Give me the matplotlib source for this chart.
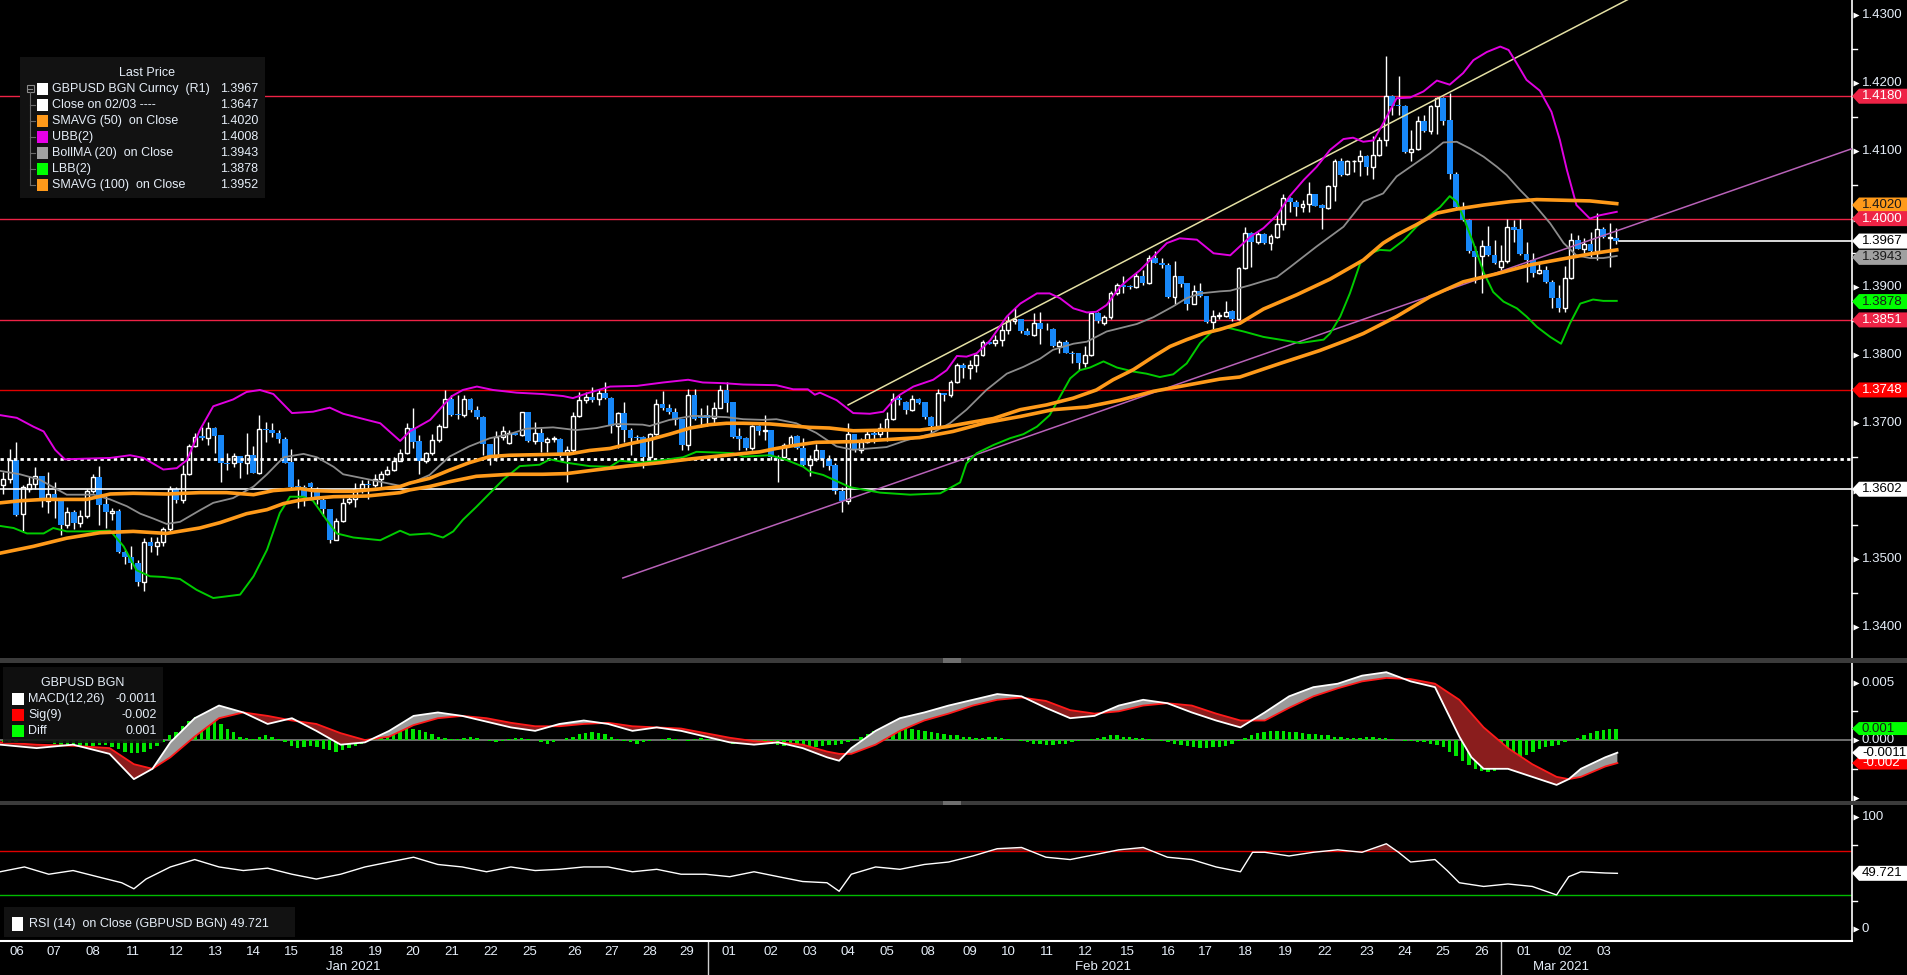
import numpy as np
import matplotlib.pyplot as plt
from matplotlib.patches import Rectangle, Polygon

plt.rcParams['font.family'] = ['Liberation Sans', 'DejaVu Sans']

# ---- 4h candles GBPUSD, 06 Jan -> 03 Mar 2021 ----
opens = [1.3608, 1.3617, 1.3645, 1.3565, 1.3603, 1.3609, 1.3622, 1.3585, 1.3595, 1.3589,
         1.3549, 1.3568, 1.3553, 1.3562, 1.3600, 1.3620, 1.3580, 1.3567, 1.3570, 1.3510,
         1.3502, 1.3493, 1.3465, 1.3525, 1.3518, 1.3524, 1.3544, 1.3603, 1.3586, 1.3625,
         1.3665, 1.3680, 1.3678, 1.3692, 1.3682, 1.3640, 1.3640, 1.3651, 1.3640, 1.3653,
         1.3626, 1.3690, 1.3689, 1.3684, 1.3676, 1.3642, 1.3607, 1.3606, 1.3611, 1.3603,
         1.3586, 1.3573, 1.3528, 1.3556, 1.3583, 1.3587, 1.3601, 1.3610, 1.3608, 1.3617,
         1.3625, 1.3630, 1.3644, 1.3655, 1.3692, 1.3673, 1.3643, 1.3655, 1.3674, 1.3694,
         1.3734, 1.3713, 1.3711, 1.3734, 1.3719, 1.3708, 1.3669, 1.3649, 1.3679, 1.3670,
         1.3684, 1.3682, 1.3716, 1.3673, 1.3684, 1.3671, 1.3676, 1.3676, 1.3655, 1.3659,
         1.3710, 1.3733, 1.3737, 1.3734, 1.3743, 1.3736, 1.3695, 1.3714, 1.3689, 1.3679,
         1.3679, 1.3650, 1.3683, 1.3727, 1.3722, 1.3716, 1.3705, 1.3667, 1.3741, 1.3709,
         1.3711, 1.3707, 1.3722, 1.3748, 1.3730, 1.3680, 1.3677, 1.3662, 1.3695, 1.3687,
         1.3689, 1.3650, 1.3649, 1.3667, 1.3680, 1.3662, 1.3638, 1.3647, 1.3660, 1.3647,
         1.3638, 1.3600, 1.3585, 1.3683, 1.3660, 1.3672, 1.3684, 1.3683, 1.3690, 1.3705,
         1.3736, 1.3730, 1.3718, 1.3734, 1.3730, 1.3708, 1.3695, 1.3743, 1.3741, 1.3759,
         1.3785, 1.3781, 1.3784, 1.3799, 1.3818, 1.3817, 1.3821, 1.3836, 1.3850, 1.3852,
         1.3835, 1.3829, 1.3847, 1.3838, 1.3838, 1.3812, 1.3818, 1.3803, 1.3802, 1.3788,
         1.3800, 1.3861, 1.3847, 1.3855, 1.3891, 1.3902, 1.3901, 1.3899, 1.3915, 1.3905,
         1.3942, 1.3935, 1.3932, 1.3885, 1.3916, 1.3905, 1.3875, 1.3893, 1.3886, 1.3848,
         1.3857, 1.3857, 1.3864, 1.3853, 1.3927, 1.3979, 1.3965, 1.3977, 1.3964, 1.3973,
         1.3992, 1.4031, 1.4025, 1.4017, 1.4021, 1.4036, 1.4020, 1.4015, 1.4048, 1.4085,
         1.4065, 1.4084, 1.4085, 1.4092, 1.4076, 1.4094, 1.4116, 1.4180, 1.4167, 1.4166,
         1.4098, 1.4103, 1.4143, 1.4129, 1.4166, 1.4177, 1.4145, 1.4066, 1.4017, 1.3998,
         1.3953, 1.3945, 1.3960, 1.3946, 1.3929, 1.3937, 1.3987, 1.3984, 1.3948, 1.3939,
         1.3920, 1.3925, 1.3907, 1.3883, 1.3868, 1.3912, 1.3969, 1.3956, 1.3963, 1.3953,
         1.3984, 1.3972, 1.3972]
highs = [1.3628, 1.3661, 1.3672, 1.3608, 1.3621, 1.3634, 1.3622, 1.3628, 1.3613, 1.3589,
         1.3576, 1.3571, 1.3571, 1.3603, 1.3625, 1.3636, 1.3592, 1.3574, 1.3573, 1.3513,
         1.3518, 1.3498, 1.3530, 1.3532, 1.3532, 1.3547, 1.3607, 1.3606, 1.3638, 1.3669,
         1.3685, 1.3693, 1.3701, 1.3693, 1.3682, 1.3655, 1.3655, 1.3651, 1.3684, 1.3665,
         1.3711, 1.3701, 1.3699, 1.3689, 1.3679, 1.3661, 1.3617, 1.3608, 1.3613, 1.3606,
         1.3589, 1.3573, 1.3559, 1.3589, 1.3592, 1.3611, 1.3616, 1.3616, 1.3625, 1.3629,
         1.3636, 1.3649, 1.3661, 1.3700, 1.3721, 1.3682, 1.3657, 1.3683, 1.3698, 1.3748,
         1.3741, 1.3741, 1.3741, 1.3736, 1.3724, 1.3709, 1.3669, 1.3687, 1.3695, 1.3689,
         1.3684, 1.3716, 1.3716, 1.3701, 1.3692, 1.3679, 1.3680, 1.3677, 1.3666, 1.3716,
         1.3745, 1.3745, 1.3753, 1.3749, 1.3760, 1.3737, 1.3716, 1.3731, 1.3692, 1.3682,
         1.3680, 1.3685, 1.3734, 1.3747, 1.3727, 1.3721, 1.3706, 1.3750, 1.3750, 1.3721,
         1.3726, 1.3731, 1.3755, 1.3760, 1.3731, 1.3692, 1.3679, 1.3697, 1.3697, 1.3711,
         1.3689, 1.3652, 1.3670, 1.3682, 1.3682, 1.3678, 1.3652, 1.3669, 1.3660, 1.3653,
         1.3640, 1.3605, 1.3700, 1.3683, 1.3677, 1.3690, 1.3689, 1.3699, 1.3716, 1.3743,
         1.3741, 1.3732, 1.3741, 1.3736, 1.3731, 1.3709, 1.3750, 1.3744, 1.3763, 1.3787,
         1.3787, 1.3792, 1.3801, 1.3821, 1.3819, 1.3829, 1.3843, 1.3857, 1.3868, 1.3853,
         1.3839, 1.3861, 1.3862, 1.3846, 1.3839, 1.3821, 1.3821, 1.3806, 1.3803, 1.3813,
         1.3863, 1.3862, 1.3858, 1.3893, 1.3905, 1.3915, 1.3903, 1.3920, 1.3925, 1.3946,
         1.3953, 1.3942, 1.3934, 1.3937, 1.3916, 1.3905, 1.3902, 1.3905, 1.3886, 1.3866,
         1.3863, 1.3879, 1.3865, 1.3929, 1.3988, 1.3981, 1.3981, 1.3979, 1.3978, 1.4008,
         1.4036, 1.4032, 1.4027, 1.4027, 1.4054, 1.4036, 1.4021, 1.4049, 1.4087, 1.4089,
         1.4086, 1.4086, 1.4101, 1.4094, 1.4121, 1.4120, 1.4239, 1.4182, 1.4210, 1.4167,
         1.4131, 1.4151, 1.4152, 1.4167, 1.4179, 1.4179, 1.4184, 1.4069, 1.4025, 1.3999,
         1.3959, 1.3969, 1.3989, 1.3968, 1.3961, 1.4000, 1.3998, 1.3999, 1.3966, 1.3949,
         1.3934, 1.3930, 1.3910, 1.3902, 1.3930, 1.3979, 1.3976, 1.3971, 1.3981, 1.4008,
         1.3988, 1.3994, 1.3986]
lows = [1.3595, 1.3611, 1.3562, 1.3541, 1.3598, 1.3602, 1.3576, 1.3567, 1.3559, 1.3535,
        1.3545, 1.3543, 1.3547, 1.3559, 1.3597, 1.3550, 1.3545, 1.3557, 1.3508, 1.3492,
        1.3484, 1.3460, 1.3453, 1.3510, 1.3505, 1.3518, 1.3538, 1.3582, 1.3582, 1.3623,
        1.3664, 1.3674, 1.3667, 1.3655, 1.3613, 1.3630, 1.3635, 1.3618, 1.3625, 1.3626,
        1.3625, 1.3672, 1.3679, 1.3670, 1.3640, 1.3603, 1.3574, 1.3577, 1.3586, 1.3581,
        1.3562, 1.3523, 1.3527, 1.3554, 1.3580, 1.3576, 1.3596, 1.3587, 1.3605, 1.3606,
        1.3623, 1.3629, 1.3643, 1.3654, 1.3662, 1.3625, 1.3641, 1.3653, 1.3672, 1.3693,
        1.3710, 1.3706, 1.3708, 1.3716, 1.3706, 1.3652, 1.3638, 1.3644, 1.3674, 1.3669,
        1.3682, 1.3680, 1.3672, 1.3669, 1.3657, 1.3657, 1.3672, 1.3650, 1.3612, 1.3655,
        1.3708, 1.3729, 1.3731, 1.3726, 1.3734, 1.3684, 1.3662, 1.3672, 1.3652, 1.3670,
        1.3633, 1.3640, 1.3682, 1.3719, 1.3713, 1.3697, 1.3659, 1.3660, 1.3704, 1.3694,
        1.3695, 1.3697, 1.3721, 1.3716, 1.3678, 1.3660, 1.3660, 1.3659, 1.3682, 1.3674,
        1.3645, 1.3613, 1.3648, 1.3665, 1.3661, 1.3636, 1.3622, 1.3643, 1.3635, 1.3630,
        1.3595, 1.3568, 1.3580, 1.3657, 1.3655, 1.3670, 1.3670, 1.3679, 1.3673, 1.3704,
        1.3726, 1.3713, 1.3717, 1.3728, 1.3706, 1.3684, 1.3694, 1.3732, 1.3738, 1.3758,
        1.3765, 1.3764, 1.3775, 1.3798, 1.3815, 1.3812, 1.3812, 1.3831, 1.3845, 1.3832,
        1.3829, 1.3828, 1.3816, 1.3836, 1.3811, 1.3803, 1.3802, 1.3788, 1.3778, 1.3782,
        1.3798, 1.3847, 1.3843, 1.3853, 1.3888, 1.3890, 1.3897, 1.3898, 1.3902, 1.3904,
        1.3934, 1.3927, 1.3883, 1.3874, 1.3900, 1.3865, 1.3874, 1.3885, 1.3847, 1.3836,
        1.3853, 1.3856, 1.3850, 1.3851, 1.3926, 1.3929, 1.3963, 1.3963, 1.3954, 1.3971,
        1.3983, 1.4010, 1.4004, 1.4010, 1.4009, 1.4018, 1.3984, 1.4014, 1.4026, 1.4062,
        1.4064, 1.4069, 1.4063, 1.4064, 1.4058, 1.4092, 1.4107, 1.4152, 1.4152, 1.4096,
        1.4085, 1.4101, 1.4128, 1.4124, 1.4125, 1.4138, 1.4058, 1.4014, 1.3996, 1.3950,
        1.3905, 1.3891, 1.3945, 1.3933, 1.3924, 1.3935, 1.3966, 1.3947, 1.3907, 1.3914,
        1.3919, 1.3906, 1.3869, 1.3862, 1.3862, 1.3911, 1.3955, 1.3950, 1.3944, 1.3939,
        1.3971, 1.3929, 1.3963]
closes = [1.3617, 1.3645, 1.3564, 1.3605, 1.3609, 1.3621, 1.3587, 1.3595, 1.3589, 1.3549,
          1.3568, 1.3553, 1.3562, 1.3600, 1.3620, 1.3579, 1.3568, 1.3570, 1.3509, 1.3502,
          1.3493, 1.3465, 1.3525, 1.3518, 1.3524, 1.3543, 1.3603, 1.3586, 1.3625, 1.3665,
          1.3679, 1.3677, 1.3692, 1.3681, 1.3640, 1.3639, 1.3651, 1.3640, 1.3653, 1.3626,
          1.3690, 1.3689, 1.3684, 1.3676, 1.3641, 1.3605, 1.3605, 1.3591, 1.3605, 1.3586,
          1.3573, 1.3528, 1.3556, 1.3582, 1.3587, 1.3602, 1.3609, 1.3608, 1.3617, 1.3625,
          1.3630, 1.3644, 1.3655, 1.3692, 1.3672, 1.3643, 1.3655, 1.3674, 1.3695, 1.3734,
          1.3711, 1.3711, 1.3734, 1.3718, 1.3708, 1.3669, 1.3649, 1.3679, 1.3687, 1.3684,
          1.3682, 1.3716, 1.3673, 1.3684, 1.3671, 1.3676, 1.3677, 1.3652, 1.3659, 1.3710,
          1.3733, 1.3737, 1.3733, 1.3743, 1.3736, 1.3695, 1.3714, 1.3689, 1.3678, 1.3678,
          1.3650, 1.3683, 1.3727, 1.3721, 1.3715, 1.3704, 1.3667, 1.3741, 1.3706, 1.3707,
          1.3707, 1.3722, 1.3748, 1.3729, 1.3679, 1.3676, 1.3662, 1.3695, 1.3687, 1.3689,
          1.3649, 1.3647, 1.3667, 1.3679, 1.3662, 1.3638, 1.3647, 1.3660, 1.3647, 1.3636,
          1.3600, 1.3585, 1.3683, 1.3660, 1.3672, 1.3683, 1.3682, 1.3692, 1.3705, 1.3734,
          1.3733, 1.3718, 1.3734, 1.3729, 1.3708, 1.3695, 1.3743, 1.3741, 1.3759, 1.3785,
          1.3781, 1.3784, 1.3799, 1.3818, 1.3816, 1.3821, 1.3836, 1.3850, 1.3853, 1.3835,
          1.3829, 1.3847, 1.3837, 1.3837, 1.3812, 1.3818, 1.3803, 1.3801, 1.3788, 1.3800,
          1.3861, 1.3850, 1.3855, 1.3891, 1.3902, 1.3899, 1.3899, 1.3915, 1.3905, 1.3942,
          1.3935, 1.3932, 1.3885, 1.3915, 1.3904, 1.3875, 1.3893, 1.3886, 1.3848, 1.3857,
          1.3858, 1.3863, 1.3852, 1.3927, 1.3979, 1.3965, 1.3977, 1.3964, 1.3974, 1.3992,
          1.4031, 1.4024, 1.4017, 1.4021, 1.4036, 1.4019, 1.4015, 1.4048, 1.4085, 1.4064,
          1.4085, 1.4085, 1.4092, 1.4076, 1.4094, 1.4116, 1.4180, 1.4166, 1.4166, 1.4098,
          1.4103, 1.4143, 1.4129, 1.4166, 1.4177, 1.4144, 1.4066, 1.4017, 1.3998, 1.3953,
          1.3944, 1.3959, 1.3946, 1.3934, 1.3938, 1.3987, 1.3983, 1.3948, 1.3939, 1.3920,
          1.3925, 1.3907, 1.3883, 1.3868, 1.3912, 1.3969, 1.3956, 1.3963, 1.3953, 1.3984,
          1.3973, 1.3973, 1.3967]

# ---- overlays, sampled along the chart (x = candle number) ----
ubb_x = [-0.5, 2.1, 4.7, 6.3, 8.1, 9.6, 13.0, 16.7, 19.8, 21.9, 25.0, 27.1, 28.7, 30.7, 32.8, 35.9,
         38.0, 40.1, 42.2, 45.1, 48.4, 51.0, 53.1, 56.8, 58.9, 62.0, 63.5, 66.7, 68.8, 70.1, 71.8,
         74.0, 76.5, 80.2, 84.3, 87.5, 89.0, 91.2, 94.8, 99.0, 103.1, 107.0, 109.3, 112.5, 115.6,
         120.8, 123.4, 125.7, 126.8, 127.6, 130.2, 132.8, 135.4, 137.5, 139.1, 140.1, 142.2, 145.3,
         147.4, 149.0, 150.5, 152.1, 154.2, 156.8, 158.9, 161.5, 163.5, 165.1, 167.2, 169.3, 170.8,
         172.4, 174.5, 176.0, 177.6, 179.7, 181.8, 183.8, 186.5, 189.1, 191.7, 194.8, 196.9, 199.0,
         201.0, 203.2, 205.2, 207.3, 209.4, 210.9, 212.5, 214.1, 215.6, 217.7, 219.8, 221.9, 224.0,
         226.0, 228.1, 229.7, 231.8, 233.9, 235.2, 236.5, 238.0, 240.1, 241.9, 243.2, 244.3, 245.8,
         247.9, 249.5, 252.1]
ubb = [1.3711, 1.3707, 1.3694, 1.3687, 1.3660, 1.3646, 1.3647, 1.3648, 1.3652, 1.3648, 1.3631, 1.3633,
       1.3645, 1.3689, 1.3724, 1.3734, 1.3745, 1.3748, 1.3742, 1.3714, 1.3716, 1.3722, 1.3713, 1.3704,
       1.3699, 1.3673, 1.3687, 1.3704, 1.3726, 1.3739, 1.3748, 1.3753, 1.3748, 1.3744, 1.3742, 1.3739,
       1.3736, 1.3743, 1.3753, 1.3754, 1.3759, 1.3763, 1.3759, 1.3758, 1.3756, 1.3755, 1.3749, 1.3749,
       1.3741, 1.3744, 1.3733, 1.3714, 1.3713, 1.3716, 1.3733, 1.3741, 1.3753, 1.3763, 1.3777, 1.3798,
       1.3797, 1.3802, 1.3821, 1.3856, 1.3875, 1.3890, 1.3890, 1.3883, 1.3868, 1.3862, 1.3863, 1.3873,
       1.3900, 1.3912, 1.3924, 1.3944, 1.3964, 1.3971, 1.3969, 1.3949, 1.3946, 1.3973, 1.3986, 1.4005,
       1.4033, 1.4057, 1.4076, 1.4101, 1.4117, 1.4119, 1.4113, 1.4115, 1.4140, 1.4177, 1.4178, 1.4187,
       1.4203, 1.4197, 1.4214, 1.4233, 1.4245, 1.4253, 1.4248, 1.4228, 1.4204, 1.4188, 1.4157, 1.4116,
       1.4072, 1.4020, 1.4000, 1.4005, 1.4010]

mid_x = [-0.5, 2.6, 5.7, 9.9, 14.1, 16.7, 19.3, 21.4, 23.4, 25.5, 27.6, 30.7, 32.8, 35.9, 39.1, 41.2,
         43.8, 46.9, 49.0, 51.6, 53.1, 56.8, 62.0, 63.5, 66.6, 69.7, 72.8, 76.0, 79.1, 81.7, 85.9,
         89.5, 92.7, 95.8, 99.9, 101.0, 104.1, 107.8, 113.0, 115.6, 118.7, 120.8, 123.9, 127.0, 130.2,
         132.8, 138.0, 141.1, 144.8, 147.9, 150.5, 153.6, 156.8, 159.4, 162.0, 164.0, 167.2, 169.3,
         172.4, 177.1, 179.7, 182.8, 184.9, 187.0, 190.1, 191.7, 194.8, 199.0, 201.1, 205.2, 209.4,
         212.5, 215.6, 217.7, 220.3, 222.9, 225.0, 227.1, 229.2, 231.3, 233.4, 234.9, 237.0, 239.1,
         241.7, 243.8, 245.8, 247.9, 250.0, 252.1]
bmid = [1.3629, 1.3624, 1.3616, 1.3594, 1.3594, 1.3587, 1.3577, 1.3566, 1.3559, 1.3551, 1.3554, 1.3571,
        1.3582, 1.3589, 1.3606, 1.3624, 1.3649, 1.3654, 1.3649, 1.3635, 1.3624, 1.3617, 1.3607, 1.3610,
        1.3623, 1.3650, 1.3665, 1.3677, 1.3683, 1.3691, 1.3693, 1.3689, 1.3692, 1.3698, 1.3697, 1.3695,
        1.3704, 1.3710, 1.3708, 1.3705, 1.3704, 1.3705, 1.3699, 1.3685, 1.3665, 1.3660, 1.3664, 1.3674,
        1.3683, 1.3699, 1.3719, 1.3748, 1.3772, 1.3782, 1.3794, 1.3807, 1.3816, 1.3819, 1.3834, 1.3845,
        1.3855, 1.3871, 1.3883, 1.3890, 1.3893, 1.3894, 1.3902, 1.3914, 1.3929, 1.3959, 1.3988, 1.4025,
        1.4037, 1.4062, 1.4079, 1.4096, 1.4112, 1.4113, 1.4103, 1.4091, 1.4076, 1.4064, 1.4042, 1.4022,
        1.3993, 1.3964, 1.3946, 1.3942, 1.3942, 1.3945]

lbb_x = [-0.5, 1.6, 3.7, 6.3, 7.8, 9.9, 13.0, 16.7, 18.8, 20.8, 22.9, 25.0, 27.6, 30.2, 32.8, 37.0,
         39.1, 41.2, 43.2, 44.8, 46.9, 48.4, 50.5, 52.1, 54.7, 58.9, 62.0, 63.5, 66.6, 68.7, 70.3,
         71.8, 73.9, 76.0, 78.1, 80.7, 83.8, 85.4, 88.0, 91.6, 94.8, 96.3, 99.5, 103.1, 106.2, 108.3,
         111.4, 114.0, 115.6, 119.8, 122.4, 125.0, 126.0, 128.1, 132.3, 137.0, 141.7, 146.4, 149.5,
         150.5, 152.1, 154.7, 157.3, 159.4, 161.5, 163.5, 165.1, 166.7, 168.2, 169.8, 171.9, 174.0,
         176.6, 178.6, 180.7, 182.8, 184.9, 187.0, 189.1, 191.1, 193.8, 196.9, 199.5, 202.6, 206.3,
         207.3, 208.9, 210.4, 212.0, 213.6, 215.1, 216.7, 218.8, 220.8, 222.9, 224.5, 226.0, 227.1,
         228.1, 229.7, 231.3, 232.8, 234.4, 236.5, 238.0, 239.6, 241.7, 243.4, 244.8, 246.4, 248.4,
         250.0, 252.1]
lbb = [1.3548, 1.3545, 1.3537, 1.3537, 1.3545, 1.3540, 1.3540, 1.3541, 1.3518, 1.3483, 1.3474, 1.3473,
       1.3470, 1.3454, 1.3442, 1.3447, 1.3474, 1.3513, 1.3567, 1.3591, 1.3591, 1.3585, 1.3557, 1.3537,
       1.3531, 1.3527, 1.3541, 1.3535, 1.3537, 1.3531, 1.3540, 1.3557, 1.3576, 1.3596, 1.3616, 1.3636,
       1.3638, 1.3646, 1.3641, 1.3636, 1.3635, 1.3644, 1.3641, 1.3645, 1.3649, 1.3657, 1.3656, 1.3655,
       1.3650, 1.3652, 1.3645, 1.3635, 1.3628, 1.3623, 1.3605, 1.3597, 1.3594, 1.3596, 1.3612, 1.3640,
       1.3655, 1.3667, 1.3677, 1.3683, 1.3694, 1.3711, 1.3738, 1.3765, 1.3777, 1.3781, 1.3790, 1.3781,
       1.3775, 1.3772, 1.3767, 1.3771, 1.3787, 1.3817, 1.3836, 1.3840, 1.3834, 1.3826, 1.3822, 1.3817,
       1.3822, 1.3831, 1.3856, 1.3890, 1.3934, 1.3949, 1.3954, 1.3953, 1.3968, 1.3988, 1.4005, 1.4017,
       1.4033, 1.4025, 1.4003, 1.3964, 1.3921, 1.3892, 1.3878, 1.3868, 1.3856, 1.3841, 1.3826, 1.3816,
       1.3846, 1.3875, 1.3881, 1.3879, 1.3879]

sma50_x = [-0.5, 2.6, 6.3, 9.9, 13.0, 16.7, 20.3, 25.5, 30.7, 34.9, 39.1, 42.2, 46.4, 48.4, 51.6, 54.7,
           58.3, 62.0, 63.5, 66.6, 69.7, 72.8, 76.0, 79.1, 84.3, 88.5, 91.6, 94.8, 97.9, 101.0, 104.1,
           107.3, 110.4, 113.0, 115.6, 119.8, 123.4, 126.0, 129.1, 132.8, 138.0, 143.2, 147.4, 151.0,
           154.7, 158.9, 163.0, 167.2, 170.8, 173.4, 176.6, 179.7, 182.3, 184.9, 187.5, 190.1, 193.2,
           196.9, 202.1, 207.3, 212.5, 215.6, 217.7, 220.8, 224.0, 227.1, 231.3, 235.5, 239.6, 243.8,
           247.9, 252.1]
sma50 = [1.3582, 1.3585, 1.3587, 1.3587, 1.3587, 1.3595, 1.3596, 1.3595, 1.3597, 1.3597, 1.3594, 1.3600,
         1.3603, 1.3600, 1.3599, 1.3599, 1.3602, 1.3606, 1.3611, 1.3618, 1.3630, 1.3641, 1.3650, 1.3652,
         1.3653, 1.3654, 1.3659, 1.3662, 1.3669, 1.3675, 1.3683, 1.3692, 1.3697, 1.3699, 1.3699, 1.3698,
         1.3695, 1.3693, 1.3692, 1.3688, 1.3689, 1.3689, 1.3694, 1.3700, 1.3706, 1.3719, 1.3726, 1.3736,
         1.3748, 1.3763, 1.3778, 1.3797, 1.3812, 1.3822, 1.3831, 1.3837, 1.3846, 1.3867, 1.3888, 1.3911,
         1.3939, 1.3964, 1.3976, 1.3991, 1.4008, 1.4014, 1.4020, 1.4025, 1.4028, 1.4027, 1.4026, 1.4022]

sma100_x = [-0.5, 4.7, 9.9, 15.1, 20.3, 25.5, 30.7, 33.9, 38.0, 41.2, 43.8, 46.4, 49.0, 51.6, 56.8, 62.0,
            63.5, 66.6, 69.7, 73.9, 79.1, 84.3, 88.0, 92.2, 97.4, 102.6, 107.8, 113.0, 118.2, 120.8,
            124.0, 127.0, 132.8, 138.0, 143.2, 148.4, 153.6, 158.9, 164.0, 169.3, 174.5, 179.7, 184.9,
            190.1, 193.2, 199.5, 205.7, 209.9, 212.5, 217.7, 222.9, 228.1, 233.4, 238.6, 243.8, 247.9,
            252.1]
sma100 = [1.3508, 1.3518, 1.3530, 1.3538, 1.3540, 1.3537, 1.3545, 1.3553, 1.3566, 1.3572, 1.3581, 1.3586,
          1.3589, 1.3591, 1.3592, 1.3597, 1.3601, 1.3606, 1.3613, 1.3621, 1.3624, 1.3624, 1.3625, 1.3630,
          1.3636, 1.3641, 1.3647, 1.3652, 1.3657, 1.3662, 1.3667, 1.3671, 1.3672, 1.3675, 1.3678, 1.3687,
          1.3700, 1.3709, 1.3719, 1.3723, 1.3733, 1.3746, 1.3755, 1.3764, 1.3767, 1.3787, 1.3806, 1.3821,
          1.3831, 1.3856, 1.3885, 1.3907, 1.3919, 1.3932, 1.3941, 1.3948, 1.3954]

# trend lines (two end points each)
trend_up_x, trend_up_y = [132.0, 253.8], [1.3726, 1.4322]
trend_low_x, trend_low_y = [96.8, 288.9], [1.34715, 1.4103]

red_levels = [1.4180, 1.4000, 1.3851]
level_3748 = 1.3748
support_1_3602 = 1.3602
close_0203 = 1.3647
last_price = 1.3967

# ---- MACD panel ----
macd_x = [-0.5, 5.2, 10.9, 16.6, 20.4, 23.3, 26.1, 29.9, 33.7, 37.5, 41.3, 45.1, 48.9, 52.7, 56.5,
          60.3, 64.1, 67.9, 71.7, 75.5, 79.3, 83.1, 86.9, 90.7, 94.5, 98.3, 102.1, 105.9, 109.7, 113.5,
          117.3, 121.1, 124.9, 128.7, 130.6, 132.5, 136.3, 140.1, 143.9, 147.7, 151.5, 155.3, 159.1,
          162.9, 166.7, 170.5, 174.3, 178.1, 181.9, 185.7, 189.5, 193.3, 197.1, 200.9, 204.7, 208.5,
          212.3, 216.1, 219.9, 223.7, 227.5, 229.4, 231.3, 235.1, 238.9, 242.7, 244.6, 246.5, 250.3,
          252.2]
macd = [-0.0004, -0.0007, -0.0004, -0.0012, -0.0034, -0.0025, -0.0002, 0.0019, 0.0030, 0.0024, 0.0014,
        0.0019, 0.0008, -0.0004, -0.0002, 0.0008, 0.0021, 0.0024, 0.0021, 0.0016, 0.0011, 0.0008, 0.0014,
        0.0017, 0.0014, 0.0008, 0.0011, 0.0008, 0.0003, -0.0002, -0.0004, -0.0002, -0.0007, -0.0015,
        -0.0018, -0.0007, 0.0008, 0.0019, 0.0024, 0.0030, 0.0035, 0.0040, 0.0038, 0.0028, 0.0019, 0.0021,
        0.0030, 0.0035, 0.0032, 0.0024, 0.0017, 0.0011, 0.0024, 0.0038, 0.0046, 0.0049, 0.0056, 0.0059,
        0.0051, 0.0046, 0.0003, -0.0015, -0.0025, -0.0025, -0.0032, -0.0039, -0.0034, -0.0025, -0.0015,
        -0.0011]
signal = [-0.0002, -0.0004, -0.0005, -0.0007, -0.0021, -0.0025, -0.0015, 0.0003, 0.0019, 0.0024, 0.0021,
          0.0017, 0.0014, 0.0006, 0.0000, 0.0003, 0.0013, 0.0019, 0.0021, 0.0019, 0.0015, 0.0012, 0.0012,
          0.0014, 0.0015, 0.0012, 0.0011, 0.0010, 0.0006, 0.0002, -0.0001, -0.0002, -0.0004, -0.0010,
          -0.0012, -0.0012, -0.0004, 0.0008, 0.0017, 0.0023, 0.0030, 0.0035, 0.0037, 0.0034, 0.0026, 0.0023,
          0.0025, 0.0030, 0.0032, 0.0030, 0.0023, 0.0017, 0.0017, 0.0028, 0.0038, 0.0045, 0.0051, 0.0054,
          0.0053, 0.0049, 0.0035, 0.0023, 0.0011, -0.0007, -0.0021, -0.0032, -0.0034, -0.0032, -0.0023,
          -0.0020]
diff = [-0.0003, -0.0003, -0.0002, -0.0001, 0.0, 0.0001, 0.0, -0.0001,
        -0.0003, -0.0004, -0.0005, -0.0005, -0.0006, -0.0006, -0.0005, -0.0004, -0.0004, -0.0006, -0.0008,
        -0.0010, -0.0011, -0.0011, -0.0010, -0.0008, -0.0005, -0.0002,
        0.0004, 0.0007, 0.0012, 0.0017, 0.0020, 0.0020, 0.0021, 0.0019, 0.0014, 0.0010, 0.0007, 0.0003,
        0.0002, 0.0001, 0.0003, 0.0004, 0.0003, 0.0001,
        -0.0002, -0.0005, -0.0007, -0.0006, -0.0005,
        -0.0006, -0.0008, -0.0009, -0.0010, -0.0009, -0.0007, -0.0005, -0.0003, -0.0001,
        0.0002, 0.0004, 0.0006, 0.0008, 0.0010, 0.0011, 0.0010, 0.0009, 0.0007, 0.0005, 0.0003, 0.0002, 0.0001,
        0.0001, 0.0002, 0.0003, 0.0002, 0.0, -0.0001, -0.0002, -0.0001, 0.0001, 0.0002, 0.0002, 0.0001, 0.0,
        -0.0002, -0.0003, -0.0002, 0.0, 0.0002,
        0.0003, 0.0005, 0.0006, 0.0007, 0.0006, 0.0005, 0.0003, 0.0001, -0.0001, -0.0002, -0.0003, -0.0002,
        -0.0001, 0.0, 0.0001, 0.0002, 0.0001, 0.0, -0.0001, 0.0001, 0.0002, 0.0001, 0.0, -0.0001, -0.0002,
        -0.0003, -0.0003, -0.0002, -0.0002, -0.0001, -0.0002, -0.0003,
        -0.0004, -0.0005, -0.0005, -0.0004, -0.0005, -0.0006, -0.0006, -0.0005, -0.0004, -0.0004, -0.0003,
        -0.0002, 0.0001, 0.0003, 0.0005,
        0.0008, 0.0010, 0.0012, 0.0013, 0.0012, 0.0011, 0.0010, 0.0009, 0.0008, 0.0007, 0.0006, 0.0005,
        0.0004, 0.0004, 0.0003, 0.0003, 0.0002,
        0.0002, 0.0003, 0.0003, 0.0002, 0.0001, 0.0, -0.0001, -0.0002, -0.0003, -0.0003, -0.0004, -0.0004,
        -0.0003, -0.0003, -0.0002, -0.0001, 0.0, 0.0001,
        0.0002, 0.0003, 0.0004, 0.0004, 0.0003, 0.0003, 0.0002, 0.0002, 0.0001, 0.0, -0.0001, -0.0002,
        -0.0003, -0.0004, -0.0005, -0.0006, -0.0007, -0.0007, -0.0006, -0.0006, -0.0005, -0.0003, -0.0001,
        0.0002, 0.0004,
        0.0006, 0.0007, 0.0008, 0.0008, 0.0008, 0.0007, 0.0007, 0.0006, 0.0005, 0.0005, 0.0004, 0.0004,
        0.0003, 0.0003, 0.0002, 0.0002, 0.0002, 0.0003, 0.0003, 0.0002,
        0.0002, 0.0001, 0.0, -0.0001, -0.0001, -0.0002, -0.0002, -0.0003, -0.0004, -0.0006, -0.0010,
        -0.0014, -0.0018,
        -0.0022, -0.0025, -0.0027, -0.0028, -0.0027, -0.0025, -0.0022, -0.0019, -0.0016, -0.0013, -0.0010,
        -0.0008, -0.0006, -0.0005, -0.0004, -0.0002, 0.0, 0.0002,
        0.0004, 0.0006, 0.0008, 0.0009, 0.0010, 0.0010]

# ---- RSI panel ----
rsi_x = [-0.5, 3.3, 7.1, 10.9, 14.7, 18.5, 20.4, 22.3, 26.1, 29.9, 33.7, 37.5, 41.3, 45.1, 48.9, 52.7,
         56.5, 60.3, 64.1, 67.9, 71.7, 75.5, 79.3, 83.1, 86.9, 90.7, 94.5, 98.3, 102.1, 105.9, 109.7,
         113.5, 117.3, 121.1, 124.9, 128.7, 130.6, 132.5, 136.3, 140.1, 143.9, 147.7, 151.5, 155.3,
         159.1, 162.9, 166.7, 170.5, 174.3, 178.1, 181.9, 185.7, 189.5, 193.3, 195.2, 197.1, 200.9,
         204.7, 208.5, 212.3, 216.1, 218.0, 219.9, 223.7, 225.6, 227.5, 231.3, 235.1, 238.9, 242.7,
         244.6, 246.5, 250.3, 252.2]
rsi = [51.1, 55.4, 48.9, 52.2, 46.7, 41.3, 35.9, 44.6, 55.4, 62.0, 55.4, 52.2, 54.3, 48.9, 44.6, 48.9,
       55.4, 59.8, 64.1, 57.6, 55.4, 51.1, 55.4, 52.2, 53.3, 55.4, 55.4, 51.1, 53.3, 48.9, 48.9, 46.7,
       51.1, 46.7, 42.4, 41.3, 33.7, 48.9, 55.4, 53.3, 57.6, 59.8, 65.2, 71.7, 72.8, 64.1, 62.0, 66.3,
       70.7, 72.8, 64.1, 62.0, 55.4, 51.1, 68.5, 68.5, 65.2, 68.5, 70.7, 68.5, 76.1, 68.5, 59.8, 62.0,
       52.2, 41.3, 38.0, 40.2, 38.0, 30.4, 46.7, 51.1, 50.0, 49.7]

# ---- date axis ----
day_labels = ['06', '07', '08', '11', '12', '13', '14', '15', '18', '19', '20', '21', '22', '25', '26',
              '27', '28', '29', '01', '02', '03', '04', '05', '08', '09', '10', '11', '12', '15', '16',
              '17', '18', '19', '22', '23', '24', '25', '26', '01', '02', '03']
day_pos = [2.1, 7.9, 14.0, 20.3, 27.1, 33.1, 39.0, 45.0, 52.1, 58.1, 64.0, 70.0, 76.1, 82.3, 89.2, 95.1,
           101.0, 106.8, 113.4, 120.0, 126.1, 132.0, 138.1, 144.5, 151.1, 157.0, 163.1, 169.0, 175.6,
           182.0, 187.9, 194.0, 200.3, 206.5, 213.1, 219.0, 224.9, 231.0, 237.6, 244.0, 250.1]
month_labels = ['Jan 2021', 'Feb 2021', 'Mar 2021']
month_pos = [54.6, 171.8, 243.4]
month_breaks = [110.1, 234.0]

# ---------------------------------------------------------------------------
W, H = 1908, 975
AXR = 1852  # pixel x of the right axis line
fig = plt.figure(figsize=(W / 100, H / 100), dpi=100, facecolor='black')
TXT = '#e6eef8'
RED = '#ee2346'
ORANGE = '#ff9a1a'
FS = 9


def panel(top, bottom, ylim):
    a = fig.add_axes([0, 1 - bottom / H, AXR / W, (bottom - top) / H])
    a.set_facecolor('black')
    for s in ['top', 'left', 'bottom']:
        a.spines[s].set_visible(False)
    a.spines['right'].set_color('white')
    a.spines['right'].set_linewidth(1.2)
    a.set_xticks([])
    a.set_yticks([])
    a.set_xlim(-0.52, 288.86)
    a.set_ylim(*ylim)
    a.dpp = (ylim[1] - ylim[0]) / (bottom - top)   # data units per pixel
    return a


ax = panel(0, 658, (1.33538, 1.43215))
axm = panel(663, 801, (-0.0053, 0.0067))
axr = panel(805, 941, (-10.7, 110.7))


def right_ticks(a, major, minor, labels):
    tr = a.get_yaxis_transform()
    for v in major:
        a.plot([1856 / AXR], [v], marker='>', ms=4.5, color='white', mec='none', transform=tr, clip_on=False)
    for v in minor:
        a.plot([1.0, 1857 / AXR], [v, v], color='white', lw=1, transform=tr, clip_on=False)
    for v, s in labels:
        a.text(1862 / AXR, v, s, transform=tr, color=TXT, fontsize=9.5, va='center', ha='left', clip_on=False)


def tag(a, v, s, bg, fg, hpx=15):
    tr = a.get_yaxis_transform()
    hh = hpx / 2 * a.dpp
    pts = [(1.0, v), (1859 / AXR, v + hh), (W / AXR, v + hh), (W / AXR, v - hh), (1859 / AXR, v - hh)]
    a.add_patch(Polygon(pts, closed=True, fc=bg, ec='none', transform=tr, clip_on=False, zorder=20))
    a.text(1862 / AXR, v, s, transform=tr, color=fg, fontsize=9.5, va='center', ha='left',
           clip_on=False, zorder=21)


# ---- main price panel ----
x = np.arange(len(opens))
o, hi, lo, c = map(np.array, (opens, highs, lows, closes))
up = c >= o
ax.vlines(x, lo, hi, color='white', lw=1, zorder=2)
ax.bar(x[up], np.maximum(c - o, 4e-5)[up], bottom=o[up], width=0.62, facecolor='black',
       edgecolor='white', linewidth=1, zorder=3)
ax.bar(x[~up], np.maximum(o - c, 5e-5)[~up], bottom=c[~up], width=0.9, color='#1787f7',
       linewidth=0, zorder=3)

for lv in red_levels:
    ax.axhline(lv, color=RED, lw=1, zorder=1)
ax.axhline(level_3748, color='#e00000', lw=1, zorder=1)
ax.axhline(support_1_3602, color='white', lw=1.2, zorder=4)
ax.axhline(close_0203, color='white', lw=2, ls=(0, (1.2, 1.2)), zorder=4)
ax.plot([x[-1] + 0.5, 289], [last_price, last_price], color='white', lw=1.2, zorder=4)

ax.plot(trend_up_x, trend_up_y, color='#e4e0a4', lw=1.1, zorder=4)
ax.plot(trend_low_x, trend_low_y, color='#b862b8', lw=1.1, zorder=4)

ax.plot(mid_x, bmid, color='#8c8c8c', lw=1.3, zorder=5)
ax.plot(ubb_x, ubb, color='#e000e0', lw=1.4, zorder=5)
ax.plot(lbb_x, lbb, color='#00cc00', lw=1.4, zorder=5)
ax.plot(sma100_x, sma100, color=ORANGE, lw=2.6, zorder=5)
ax.plot(sma50_x, sma50, color=ORANGE, lw=2.6, zorder=5)

pmaj = [1.34, 1.35, 1.36, 1.37, 1.38, 1.39, 1.40, 1.41, 1.42, 1.43]
right_ticks(ax, pmaj, [m + 0.005 for m in pmaj[:-1]], [(v, f'{v:.4f}') for v in pmaj])
tag(ax, 1.4180, '1.4180', RED, 'white')
tag(ax, 1.4020, '1.4020', ORANGE, '#1a1a1a')
tag(ax, 1.4000, '1.4000', RED, 'white')
tag(ax, 1.3967, '1.3967', 'white', 'black')
tag(ax, 1.3943, '1.3943', '#a0a0a0', '#1a1a1a')
tag(ax, 1.3878, '1.3878', '#00ff00', '#1a1a1a')
tag(ax, 1.3851, '1.3851', RED, 'white')
tag(ax, 1.3748, '1.3748', '#ff0000', 'white')
tag(ax, 1.3602, '1.3602', 'white', 'black')

# ---- MACD panel ----
mx = np.array(macd_x)
mv = np.array(macd)
sv = np.array(signal)
axm.axhline(0, color='#808080', lw=1.2, zorder=1)
axm.bar(np.arange(len(diff)), diff, width=0.55, color='#00e600', zorder=2)
axm.fill_between(mx, mv, sv, where=mv >= sv, interpolate=True, color='#9a9a9a', lw=0, zorder=3)
axm.fill_between(mx, mv, sv, where=mv < sv, interpolate=True, color='#8a1d1d', lw=0, zorder=3)
axm.plot(mx, sv, color='#ff1a1a', lw=1.3, zorder=4)
axm.plot(mx, mv, color='white', lw=1.3, zorder=4)
right_ticks(axm, [0.005, 0.0, -0.005], [0.0025, -0.0025], [(0.005, '0.005'), (0.0, '0.000')])
tag(axm, 0.001, '0.001', '#00ff00', '#1a1a1a', hpx=13)
tag(axm, -0.002, '-0.002', '#ff0000', 'white', hpx=13)
tag(axm, -0.0011, '-0.0011', 'white', 'black', hpx=13)

# ---- RSI panel ----
rx = np.array(rsi_x)
rv = np.array(rsi)
axr.axhline(70, color='#e00000', lw=1)
axr.axhline(30, color='#00bb00', lw=1)
axr.fill_between(rx, rv, 70, where=rv > 70, interpolate=True, color='#7a2222', lw=0)
axr.fill_between(rx, rv, 30, where=rv < 30, interpolate=True, color='#1f6b1f', lw=0)
axr.plot(rx, rv, color='white', lw=1)
right_ticks(axr, [100, 0], [75, 25], [(100, '100'), (0, '0')])
tag(axr, 49.721, '49.721', 'white', 'black', hpx=15)

# date axis
axr.spines['bottom'].set_visible(True)
axr.spines['bottom'].set_color('white')
axr.spines['bottom'].set_linewidth(1.5)
xt = axr.get_xaxis_transform()
for p, s in zip(day_pos, day_labels):
    axr.text(p, -11 / 136, s, transform=xt, color=TXT, fontsize=9.5, ha='center', va='center', clip_on=False)
for p, s in zip(month_pos, month_labels):
    axr.text(p, -26 / 136, s, transform=xt, color=TXT, fontsize=9.5, ha='center', va='center', clip_on=False)
for p in month_breaks:
    axr.plot([p, p], [0, -34 / 136], color='#cfcfcf', lw=1, transform=xt, clip_on=False)

# ---- overlay in pixel coordinates: legends and panel separators ----
ov = fig.add_axes([0, 0, 1, 1], zorder=30)
ov.set_xlim(0, W)
ov.set_ylim(H, 0)
ov.axis('off')

for ytop, hgt in [(658, 5), (801, 4)]:
    ov.add_patch(Rectangle((0, ytop), W, hgt, fc='#3b3b3b', ec='none'))
    ov.add_patch(Rectangle((943, ytop), 18, hgt, fc='#6e6e6e', ec='none'))

legend_names = ['GBPUSD BGN Curncy  (R1)', 'Close on 02/03 ----', 'SMAVG (50)  on Close', 'UBB(2)',
                'BollMA (20)  on Close', 'LBB(2)', 'SMAVG (100)  on Close']
legend_vals = ['1.3967', '1.3647', '1.4020', '1.4008', '1.3943', '1.3878', '1.3952']
legend_cols = ['white', 'white', ORANGE, '#e600e6', '#a0a0a0', '#00ff00', ORANGE]
ov.add_patch(Rectangle((20, 57), 245, 141, fc='#121212', ec='none'))
ov.text(147, 73, 'Last Price', color=TXT, fontsize=FS, ha='center', va='center')
ov.add_patch(Rectangle((27, 85), 7, 7, fc='none', ec='#8a8a8a', lw=0.8))
ov.plot([28.5, 32.5], [88.5, 88.5], color='#8a8a8a', lw=0.8)
ov.plot([30.5, 30.5], [92, 185], color='#6a6a6a', lw=0.8)
for i, (nm, vl, cl) in enumerate(zip(legend_names, legend_vals, legend_cols)):
    yy = 89 + i * 16
    if i > 0:
        ov.plot([30.5, 35], [yy, yy], color='#6a6a6a', lw=0.8)
    ov.add_patch(Rectangle((37, yy - 6), 11, 12, fc=cl, ec='none'))
    ov.text(52, yy, nm, color=TXT, fontsize=FS, ha='left', va='center')
    ov.text(258, yy, vl, color=TXT, fontsize=FS, ha='right', va='center')

macd_names = ['MACD(12,26)', 'Sig(9)', 'Diff']
macd_vals = ['-0.0011', '-0.002', '0.001']
macd_cols = ['white', '#ff0000', '#00ff00']
ov.add_patch(Rectangle((3, 667), 160, 76, fc=(0.07, 0.07, 0.07, 0.88), ec='none'))
ov.text(83, 683, 'GBPUSD BGN', color=TXT, fontsize=FS, ha='center', va='center')
for i, (nm, vl, cl) in enumerate(zip(macd_names, macd_vals, macd_cols)):
    yy = 699 + i * 16
    ov.add_patch(Rectangle((12, yy - 6), 12, 12, fc=cl, ec='none'))
    ov.text(28, yy, nm, color=TXT, fontsize=FS, ha='left', va='center')
    ov.text(157, yy, vl, color=TXT, fontsize=FS, ha='right', va='center')

ov.add_patch(Rectangle((4, 907), 291, 30, fc='#121212', ec='none'))
ov.add_patch(Rectangle((12, 917), 11, 14, fc='white', ec='none'))
ov.text(29, 924, 'RSI (14)  on Close (GBPUSD BGN) 49.721', color=TXT, fontsize=FS, ha='left', va='center')

fig.savefig('out.png', dpi=100, facecolor='black')
